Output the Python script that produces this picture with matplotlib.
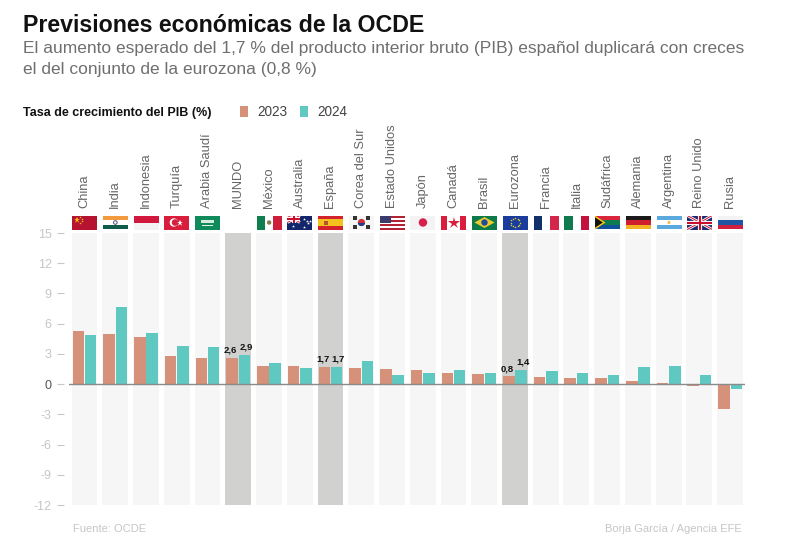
import matplotlib.pyplot as plt
from matplotlib.patches import Rectangle, Circle, Polygon
import numpy as np

countries = ['China', 'India', 'Indonesia', 'Turquía', 'Arabia Saudí', 'MUNDO', 'México', 'Australia',
             'España', 'Corea del Sur', 'Estado Unidos', 'Japón', 'Canadá', 'Brasil', 'Eurozona',
             'Francia', 'Italia', 'Sudáfrica', 'Alemania', 'Argentina', 'Reino Unido', 'Rusia']
y2023 = [5.3, 5.0, 4.7, 2.8, 2.6, 2.6, 1.8, 1.8, 1.7, 1.6, 1.5, 1.4, 1.1, 1.0, 0.8, 0.7, 0.6, 0.6, 0.3, 0.1, -0.2, -2.5]
y2024 = [4.9, 7.7, 5.1, 3.8, 3.7, 2.9, 2.1, 1.6, 1.7, 2.3, 0.9, 1.1, 1.4, 1.1, 1.4, 1.3, 1.1, 0.9, 1.7, 1.8, 0.9, -0.5]
highlight = ['MUNDO', 'España', 'Eurozona']
yticks = [15, 12, 9, 6, 3, 0, -3, -6, -9, -12]

plt.rcParams['font.family'] = 'Liberation Sans'
plt.rcParams['axes.unicode_minus'] = False

W, H = 800, 544
fig = plt.figure(figsize=(W / 100, H / 100), dpi=100)


def px_axes(x0, y0, x1, y1):
    # axes from pixel box, y counted from the top
    return fig.add_axes([x0 / W, 1 - y1 / H, (x1 - x0) / W, (y1 - y0) / H])


ax = px_axes(69.1, 233, 745.5, 505)
ax.set_xlim(-0.5, 21.5)
ax.set_ylim(-12, 15)
x = np.arange(len(countries))

for i, name in enumerate(countries):
    col = '#d1d1cf' if name in highlight else '#f6f6f6'
    ax.bar(i, 27, bottom=-12, width=0.84, color=col, zorder=1)

ax.bar(x - 0.2, y2023, width=0.375, color='#d59179', label='2023', zorder=2)
ax.bar(x + 0.2, y2024, width=0.375, color='#5fc9c1', label='2024', zorder=2)
ax.axhline(0, color='#8a8a8a', lw=1, zorder=3)

for name in highlight:
    i = countries.index(name)
    for off, v in ((-0.25, y2023[i]), (0.25, y2024[i])):
        ax.text(i + off, v + 0.3, f'{v:.1f}'.replace('.', ','), ha='center', va='bottom',
                fontsize=6.8, fontweight='bold', color='#111111', zorder=4)

for s in ax.spines.values():
    s.set_visible(False)
ax.spines['left'].set_position(('outward', 4))
ax.set_xticks([])
ax.set_yticks(yticks)
ax.tick_params(axis='y', length=5, width=0.8, color='#c8c8c8', pad=3.5)
for lab, t in zip(ax.get_yticklabels(), yticks):
    lab.set_fontsize(9)
    lab.set_color('#555555' if t == 0 else '#c6c6c6')
ax.get_yticklines()[2 * yticks.index(0)].set_color('#666666')

for i, name in enumerate(countries):
    ax.annotate(name, (i, 1), xycoords=('data', 'axes fraction'), xytext=(0, 18), textcoords='offset points',
                rotation=90, ha='center', va='bottom', fontsize=9.3, color='#666666')


def flag(i, name):
    cx = 84.6 + i * 30.76
    a = px_axes(cx - 12.5, 215.5, cx + 12.5, 229.5)
    a.set_xlim(0, 25)
    a.set_ylim(14, 0)
    a.axis('off')

    def r(x0, y0, w, h, c):
        a.add_patch(Rectangle((x0, y0), w, h, color=c, lw=0))

    def hstripes(cols):
        h = 14 / len(cols)
        for k, c in enumerate(cols):
            r(0, k * h, 25, h, c)

    def vstripes(cols):
        w = 25 / len(cols)
        for k, c in enumerate(cols):
            r(k * w, 0, w, 14, c)

    def union_jack(x0, x1, y0, y1):
        a.plot([x0, x1], [y0, y1], color='white', lw=2, solid_capstyle='butt')
        a.plot([x0, x1], [y1, y0], color='white', lw=2, solid_capstyle='butt')
        a.plot([x0, x1], [y0, y1], color='#c8102e', lw=0.7, solid_capstyle='butt')
        a.plot([x0, x1], [y1, y0], color='#c8102e', lw=0.7, solid_capstyle='butt')
        mx, my = (x0 + x1) / 2, (y0 + y1) / 2
        a.plot([mx, mx], [y0, y1], color='white', lw=3, solid_capstyle='butt')
        a.plot([x0, x1], [my, my], color='white', lw=3, solid_capstyle='butt')
        a.plot([mx, mx], [y0, y1], color='#c8102e', lw=1.5, solid_capstyle='butt')
        a.plot([x0, x1], [my, my], color='#c8102e', lw=1.5, solid_capstyle='butt')

    if name == 'China':
        r(0, 0, 25, 14, '#b5132f')
        a.plot([4.5], [4], marker='*', ms=5, color='#f5c518', mew=0)
        a.plot([8, 9.5, 9.5, 8], [1.8, 3.5, 5.5, 7], ls='', marker='*', ms=1.8, color='#f5c518', mew=0)
    elif name == 'India':
        hstripes(['#f29a3d', '#ffffff', '#0f5c4b'])
        a.add_patch(Circle((12.5, 7), 1.8, fc='white', ec='#40507c', lw=0.7))
    elif name == 'Indonesia':
        hstripes(['#d3183d', '#f3f3f3'])
    elif name == 'Turquía':
        r(0, 0, 25, 14, '#d81e3c')
        a.add_patch(Circle((9.5, 7), 4.2, color='white', lw=0))
        a.add_patch(Circle((10.7, 7), 3.3, color='#d81e3c', lw=0))
        a.plot([15.2], [7], marker='*', ms=5, color='white', mew=0)
    elif name == 'Arabia Saudí':
        r(0, 0, 25, 14, '#0f8a5a')
        r(6, 4, 13, 3, '#d4eadf')
        r(7, 9.5, 11, 0.7, '#e8f3ee')
    elif name == 'México':
        vstripes(['#0f7f4f', '#ffffff', '#cf1e3c'])
        a.add_patch(Circle((12.5, 7), 2.2, color='#8a7a4a', lw=0))
    elif name == 'Australia':
        r(0, 0, 25, 14, '#14266b')
        union_jack(0, 12.5, 0, 7)
        a.plot([6, 17, 21, 17, 23, 20], [10.5, 11, 7, 3, 5.5, 5.5], ls='', marker='*', ms=2.2, color='white', mew=0)
    elif name == 'España':
        r(0, 0, 25, 14, '#d3222d')
        r(0, 3.5, 25, 7, '#f4c21f')
        a.add_patch(Rectangle((6, 5.2), 3.5, 3.8, color='#b5532a', lw=0))
    elif name == 'Corea del Sur':
        r(0, 0, 25, 14, '#f5f5f5')
        a.add_patch(Circle((12.5, 7), 3.6, color='#cd2e3a', lw=0))
        blue = Rectangle((8.9, 7), 7.2, 3.6, color='#1a3f8b', lw=0)
        a.add_patch(blue)
        blue.set_clip_path(Circle((12.5, 7), 3.6, transform=a.transData))
        for px, py in ((6, 2.5), (19, 2.5), (6, 11.5), (19, 11.5)):
            a.plot([px], [py], marker='s', ms=3, color='#333333', mew=0)
    elif name == 'Estado Unidos':
        hstripes(['#b22234', '#ffffff'] * 3 + ['#b22234'])
        r(0, 0, 11, 7, '#3c3b6e')
    elif name == 'Japón':
        r(0, 0, 25, 14, '#f3f3f3')
        a.add_patch(Circle((12.5, 7), 4.2, color='#d81e4a', lw=0))
    elif name == 'Canadá':
        r(0, 0, 25, 14, '#ffffff')
        r(0, 0, 6, 14, '#d81e3c')
        r(19, 0, 6, 14, '#d81e3c')
        a.plot([12.5], [7], marker='*', ms=9, color='#d81e3c', mew=0)
    elif name == 'Brasil':
        r(0, 0, 25, 14, '#0d7a4a')
        a.add_patch(Polygon([(12.5, 1.5), (22.5, 7), (12.5, 12.5), (2.5, 7)], color='#f0c92b', lw=0))
        a.add_patch(Circle((12.5, 7), 3.2, color='#1e4d9b', lw=0))
    elif name == 'Eurozona':
        r(0, 0, 25, 14, '#1a3c9c')
        ang = np.deg2rad(np.arange(0, 360, 30))
        a.plot(12.5 + 4.6 * np.cos(ang), 7 + 4.6 * np.sin(ang), ls='', marker='*', ms=1.8, color='#f5d327', mew=0)
    elif name == 'Francia':
        vstripes(['#12316b', '#ffffff', '#d4254a'])
    elif name == 'Italia':
        vstripes(['#0f7a4d', '#ffffff', '#c4123f'])
    elif name == 'Sudáfrica':
        hstripes(['#d9263c', '#0f7a4d', '#0f4f9c'])
        r(0, 5.6, 25, 2.8, '#0f7a4d')
        a.add_patch(Polygon([(0, 0), (10.5, 7), (0, 14)], color='#f5c518', lw=0))
        a.add_patch(Polygon([(0, 1.8), (7.8, 7), (0, 12.2)], color='#111111', lw=0))
    elif name == 'Alemania':
        hstripes(['#1a1a1a', '#cf1e2d', '#f0b323'])
    elif name == 'Argentina':
        hstripes(['#5aa9dc', '#ffffff', '#5aa9dc'])
        a.add_patch(Circle((12.5, 7), 1.6, color='#f2c14e', lw=0))
    elif name == 'Reino Unido':
        r(0, 0, 25, 14, '#1b2a6b')
        union_jack(0, 25, 0, 14)
    elif name == 'Rusia':
        hstripes(['#f3f3f3', '#1f55a5', '#d1203f'])


for i, name in enumerate(countries):
    if name != 'MUNDO':
        flag(i, name)

fig.text(23 / W, 1 - 25.5 / H, 'Previsiones económicas de la OCDE', fontsize=16.7, fontweight='bold',
         color='#111111', va='center')
fig.text(23 / W, 1 - 48.5 / H, 'El aumento esperado del 1,7 % del producto interior bruto (PIB) español duplicará con creces',
         fontsize=12.5, color='#6f6f6f', va='center')
fig.text(23 / W, 1 - 69.5 / H, 'el del conjunto de la eurozona (0,8 %)', fontsize=12.5, color='#6f6f6f', va='center')
fig.text(23 / W, 1 - 113 / H, 'Tasa de crecimiento del PIB (%)', fontsize=9, fontweight='bold',
         color='#111111', va='center')

leg = fig.legend(*ax.get_legend_handles_labels(), loc='center left', bbox_to_anchor=(240 / W, 1 - 112.5 / H),
                 ncol=2, frameon=False, handlelength=0.59, handleheight=0.9,
                 handletextpad=0.66, columnspacing=0.96, borderpad=0, borderaxespad=0, fontsize=9.8)
for t in leg.get_texts():
    t.set_color('#444444')

fig.text(73 / W, 1 - 529 / H, 'Fuente: OCDE', fontsize=8, color='#c6c6c6', va='center')
fig.text(742 / W, 1 - 529 / H, 'Borja García / Agencia EFE', fontsize=8, color='#c6c6c6',
         va='center', ha='right')

fig.savefig('out.png', dpi=100)
